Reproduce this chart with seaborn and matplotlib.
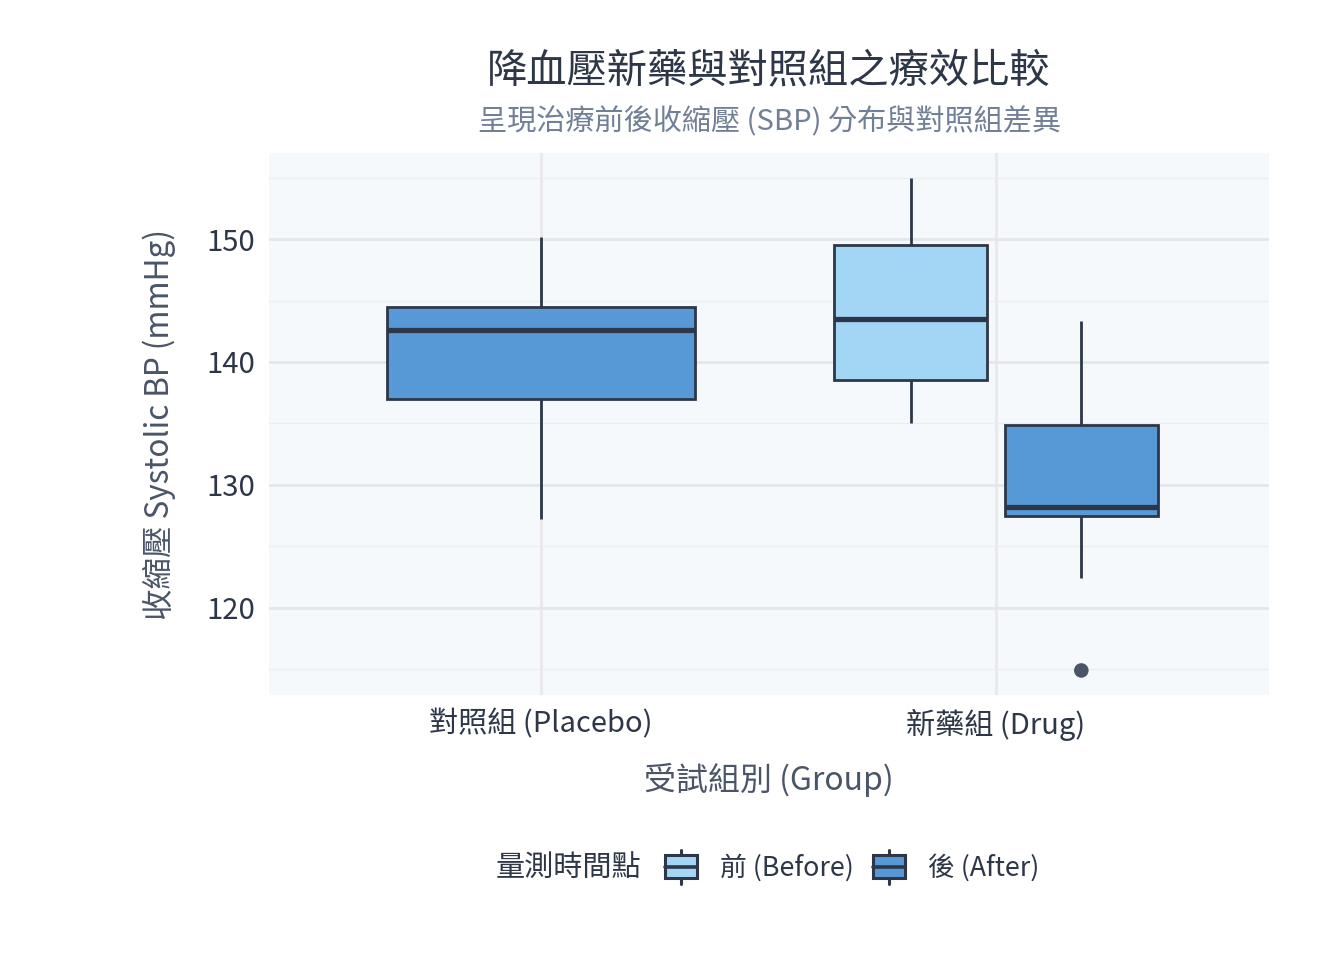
import pandas as pd
import matplotlib.pyplot as plt
import seaborn as sns
from matplotlib.legend_handler import HandlerBase
from matplotlib.patches import Rectangle
from matplotlib.lines import Line2D
from matplotlib.ticker import MultipleLocator

# -------------------------
# DATA (five-number summaries)
# -------------------------
groups = ["對照組 (Placebo)", "新藥組 (Drug)"]
times = ["前 (Before)", "後 (After)"]

placebo_after = [127.2, 137.0, 142.6, 144.5, 150.2]   # min, q1, median, q3, max
drug_before = [135.0, 138.5, 143.5, 149.5, 155.0]
drug_after = [122.4, 127.5, 128.2, 134.9, 143.3]
drug_after_outliers = [114.9]

colors = {"前 (Before)": "#A3D5F5", "後 (After)": "#5799D6"}
edge = "#2D3748"
text_dark = "#2D3748"
text_grey = "#718096"

df_placebo = pd.DataFrame({"group": groups[0], "time": times[1], "sbp": placebo_after})
df_drug = pd.concat([
    pd.DataFrame({"group": groups[1], "time": times[0], "sbp": drug_before}),
    pd.DataFrame({"group": groups[1], "time": times[1], "sbp": drug_after}),
])

# -------------------------
# STYLE
# -------------------------
sns.set_theme(style="white")
plt.rcParams["font.family"] = ["Noto Sans CJK TC", "DejaVu Sans"]

fig = plt.figure(figsize=(13.44, 9.6), dpi=100)
ax = fig.add_axes([0.2001, 0.276, 0.7441, 0.5646])
ax.set_facecolor("#F6F9FC")

box_kw = dict(
    whis=(0, 100), linewidth=2.0, linecolor=edge, saturation=1,
    medianprops=dict(linewidth=3.8, color=edge),
    whiskerprops=dict(linewidth=2.0, color=edge),
    capprops=dict(linewidth=0),
    showfliers=False,
)

sns.boxplot(data=df_placebo, x="group", y="sbp", order=groups,
            color=colors[times[1]], width=0.675, ax=ax, **box_kw)
sns.boxplot(data=df_drug, x="group", y="sbp", hue="time", order=groups,
            hue_order=times, palette=colors, width=0.75, gap=0.1,
            dodge=True, legend=False, ax=ax, **box_kw)

# outlier sits at the centre of the drug "after" box
cx = None
for p in ax.patches:
    ext = p.get_path().get_extents()
    if ext.x0 > 1.0:
        cx = (ext.x0 + ext.x1) / 2
cx = 1.1875 if cx is None else cx
sns.scatterplot(x=[cx] * len(drug_after_outliers), y=drug_after_outliers,
                color="#4A5568", s=110, edgecolor="none", ax=ax, legend=False, zorder=5)

# -------------------------
# AXES
# -------------------------
ax.set_xlim(-0.598, 1.6)
ax.set_ylim(112.9, 157.0)
ax.yaxis.set_major_locator(MultipleLocator(10))
ax.yaxis.set_minor_locator(MultipleLocator(5))
ax.grid(True, which="major", axis="y", color="#E6E6EA", linewidth=2.0, zorder=0)
ax.grid(True, which="minor", axis="y", color="#ECEDF0", linewidth=1.0, zorder=0)
ax.grid(True, which="major", axis="x", color="#E9E9EC", linewidth=2.0, zorder=0)
ax.set_axisbelow(True)
for s in ax.spines.values():
    s.set_visible(False)
ax.tick_params(axis="both", which="both", length=0, labelsize=21, colors=text_dark, pad=10)

ax.set_xlabel("受試組別 (Group)", fontsize=23, color="#4A5568", labelpad=16)
ax.set_ylabel("收縮壓 Systolic BP (mmHg)", fontsize=22.7, color="#4A5568", labelpad=22)

fig.text(0.5722, 0.9265, "降血壓新藥與對照組之療效比較", ha="center", va="center",
         fontsize=29, color=text_dark)
fig.text(0.5722, 0.8725, "呈現治療前後收縮壓 (SBP) 分布與對照組差異", ha="center", va="center",
         fontsize=21, color=text_grey)


# -------------------------
# LEGEND (box-shaped handles)
# -------------------------
class BoxHandler(HandlerBase):
    def create_artists(self, legend, orig_handle, xdescent, ydescent, width, height, fontsize, trans):
        fc = orig_handle.get_facecolor()
        h = height * 0.95
        w = height * 1.35
        x0 = (width - w) / 2 - xdescent
        y0 = -ydescent + (height - h) / 2
        rect = Rectangle((x0, y0), w, h, facecolor=fc, edgecolor=edge, linewidth=2.2, transform=trans)
        med = Line2D([x0, x0 + w], [y0 + h / 2] * 2, color=edge, linewidth=2.6, transform=trans)
        cxh = x0 + w / 2
        top = Line2D([cxh, cxh], [y0 + h, y0 + h * 1.25], color=edge, linewidth=2.2, transform=trans)
        bot = Line2D([cxh, cxh], [y0 - h * 0.25, y0], color=edge, linewidth=2.2, transform=trans)
        return [top, bot, rect, med]


handles = [Rectangle((0, 0), 1, 1, facecolor=colors[t]) for t in times]
leg = fig.legend(handles, times, loc="center left", bbox_to_anchor=(0.4926, 0.0958),
                 ncol=2, frameon=False, fontsize=19.3, handlelength=1.4, handleheight=1.0,
                 handletextpad=0.75, columnspacing=0.62, borderpad=0, borderaxespad=0,
                 handler_map={Rectangle: BoxHandler()})
for t in leg.get_texts():
    t.set_color(text_dark)
fig.text(0.477, 0.0958, "量測時間點", ha="right", va="center", fontsize=21, color=text_dark)

plt.savefig("out.png", dpi=100, facecolor="white")
